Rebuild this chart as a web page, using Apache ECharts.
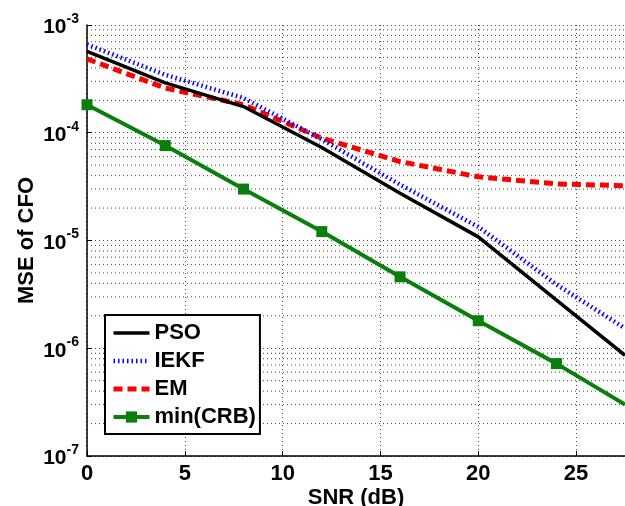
<!DOCTYPE html>
<html><head><meta charset="utf-8">
<script src="https://cdn.jsdelivr.net/npm/echarts@6/dist/echarts.min.js"></script>
<style>html,body{margin:0;padding:0;background:#fff}#c{width:625px;height:506px}</style>
</head><body><div id="c"></div>
<script>
const snr = [0, 4, 8, 12, 16, 20, 24, 27.5];
const pso = [5.7e-4, 2.9e-4, 1.75e-4, 7.3e-5, 2.75e-5, 1.08e-5, 2.8e-6, 8.6e-7];
const iekf = [6.6e-4, 3.45e-4, 2.1e-4, 8.7e-5, 3.3e-5, 1.34e-5, 3.9e-6, 1.53e-6];
const em = [4.85e-4, 2.6e-4, 1.82e-4, 8.9e-5, 5.4e-5, 3.9e-5, 3.35e-5, 3.22e-5];
const crb = [1.82e-4, 7.6e-5, 3.0e-5, 1.21e-5, 4.6e-6, 1.8e-6, 7.2e-7, 3.0e-7];
const crbMarkerX = [0, 4, 8, 12, 16, 20, 24];
const decades = [-7, -6, -5, -4];
const minorMant = [2, 3, 4, 5, 6, 7, 8, 9];
const xTickStep = 5;

const minorVals = [];
decades.forEach(k => minorMant.forEach(m => minorVals.push([0, m * Math.pow(10, k)])));

const pairs = (ys) => snr.map((x, i) => [x, ys[i]]);
const F = 'Liberation Sans, Arial, sans-serif';
const gridStyle = { color: '#444', type: [1, 3], width: 1 };
const noSym = { color: 'rgba(0,0,0,0)', borderColor: 'rgba(0,0,0,0)', borderWidth: 0 };
const psoLine = { color: '#000', width: 3.5 };
const iekfLine = { color: '#0000ff', width: 4.5, type: [1.5, 3] };
const emLine = { color: '#ff0000', width: 5, type: [9, 5] };
const crbLine = { color: '#0b7f0b', width: 4 };

const chart = echarts.init(document.getElementById('c'));
chart.setOption({
  animation: false,
  backgroundColor: '#fff',
  grid: { left: 87, top: 25, right: 0, bottom: 50, outerBoundsMode: 'none' },
  xAxis: {
    type: 'value', min: 0, max: 27.5, interval: xTickStep,
    name: 'SNR (dB)', nameLocation: 'middle', nameGap: 31, nameMoveOverlap: false,
    nameTextStyle: { fontFamily: F, fontWeight: 'bold', fontSize: 22, color: '#000' },
    axisLine: { show: true, lineStyle: { color: '#000', width: 1.5 } },
    axisTick: { show: true, inside: true, length: 5, lineStyle: { color: '#000' } },
    axisLabel: { fontFamily: F, fontWeight: 'bold', fontSize: 22, color: '#000', margin: 7, showMaxLabel: false },
    splitLine: { show: true, lineStyle: gridStyle }
  },
  yAxis: {
    type: 'log', logBase: 10, min: 1e-7, max: 1e-3, splitNumber: 4,
    name: 'MSE of CFO', nameLocation: 'middle', nameGap: 49, nameRotate: 90, nameMoveOverlap: false,
    nameTextStyle: { fontFamily: F, fontWeight: 'bold', fontSize: 22, color: '#000' },
    axisLine: { show: true, lineStyle: { color: '#000', width: 1.5 } },
    axisTick: { show: true, inside: true, length: 5, lineStyle: { color: '#000' } },
    axisLabel: {
      margin: 8,
      formatter: v => '{b|10}{s|' + Math.round(Math.log10(v)) + '}',
      rich: {
        b: { fontFamily: F, fontWeight: 'bold', fontSize: 21, color: '#000', padding: [5, 0, 0, 0] },
        s: { fontFamily: F, fontWeight: 'bold', fontSize: 14, color: '#000', padding: [0, 0, 12, 0] }
      }
    },
    splitLine: { show: true, lineStyle: gridStyle }
  },
  legend: {
    orient: 'vertical', left: 105, top: 315,
    backgroundColor: '#fff', borderColor: '#000', borderWidth: 2, borderRadius: 0,
    padding: [7, 4, 6, 6],
    itemWidth: 36, itemHeight: 14, itemGap: 6,
    textStyle: { fontFamily: F, fontWeight: 'bold', fontSize: 22, color: '#000', lineHeight: 20 },
    data: [
      { name: 'PSO', itemStyle: noSym, lineStyle: psoLine },
      { name: 'IEKF', itemStyle: noSym, lineStyle: iekfLine },
      { name: 'EM', itemStyle: noSym, lineStyle: emLine },
      { name: 'min(CRB)', lineStyle: crbLine }
    ]
  },
  series: [
    {
      name: 'grid-minor', type: 'custom', data: minorVals, silent: true, z: 1,
      renderItem: (params, api) => {
        const y = api.coord([0, api.value(1)])[1];
        const cs = params.coordSys;
        return { type: 'line', shape: { x1: cs.x, y1: y, x2: cs.x + cs.width, y2: y },
          style: { stroke: gridStyle.color, lineWidth: 1, lineDash: [1, 3] }, silent: true };
      }
    },
    { name: 'PSO', type: 'line', data: pairs(pso), symbol: 'none', z: 5,
      lineStyle: psoLine, itemStyle: { color: '#000' } },
    { name: 'IEKF', type: 'line', data: pairs(iekf), symbol: 'none', z: 4,
      lineStyle: iekfLine, itemStyle: { color: '#0000ff' } },
    { name: 'EM', type: 'line', data: pairs(em), symbol: 'none', z: 3,
      lineStyle: emLine, itemStyle: { color: '#ff0000' } },
    { name: 'min(CRB)', type: 'line', z: 6,
      data: pairs(crb).map(p => ({ value: p, symbol: crbMarkerX.includes(p[0]) ? 'rect' : 'none' })),
      symbol: 'rect', symbolSize: 11, showAllSymbol: true,
      lineStyle: crbLine, itemStyle: { color: '#0b7f0b' } }
  ]
});
</script></body></html>
